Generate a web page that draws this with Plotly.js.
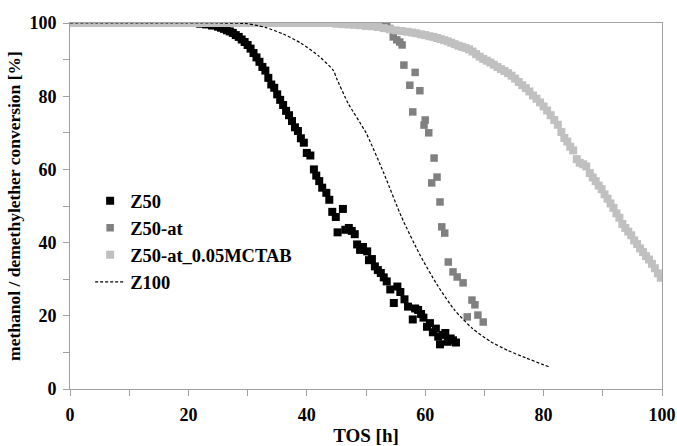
<!DOCTYPE html>
<html>
<head>
<meta charset="utf-8">
<script src="https://cdn.plot.ly/plotly-3.0.1.min.js"></script>
<style>html,body{margin:0;padding:0;background:#fff;}#chart{width:677px;height:446px;}</style>
</head>
<body>
<div id="chart"></div>
<script>
// Z50 (black)
const z50_x = [0,1,2,3,4,5,6,7,8,9,10,11,12,13,14,15,16,17,18,19,20,21,
  22,23,24,25,25.5,26,26.5,27,27.5,28,28.5,29,29.5,30,30.5,31,31.5,32,32.5,33,33.5,34,34.5,35,35.5,36,36.5,37,37.5,38,38.5,39,39.5,40,
  40.6,41.2,41.6,42.1,42.6,43.3,43.8,44.3,44.9,45.2,46.1,46.5,47.1,47.6,48.1,48.5,49.0,49.5,50.2,50.5,51.0,51.5,52.0,52.5,53.0,53.5,
  54.1,54.7,55.3,55.8,56.5,57.1,57.9,58.3,58.8,59.3,59.7,60.3,60.8,61.3,61.8,62.2,62.5,63.0,63.4,63.8,64.3,64.7,65.2];
const z50_y = [100,100,100,100,100,100,100,100,100,100,100,100,100,100,100,100,100,100,100,100,100,100,
  99.8,99.6,99.3,99.0,98.7,98.4,98.0,97.7,97.3,96.7,96.2,95.5,94.8,94.0,93.0,91.8,90.6,89.4,88.0,87.0,85.0,83.2,82.3,80.5,79.0,77.6,76.0,74.8,73.2,71.5,70.5,68.5,67.3,64.5,
  63.8,60.0,58.3,56.8,55.0,53.6,51.7,48.4,47.0,42.8,49.2,43.5,44.0,43.2,42.3,39.5,38.0,38.8,37.6,35.2,35.5,33.5,32.5,31.7,30.5,29.4,
  27.2,23.5,28.0,26.5,24.5,22.5,19.0,22.0,21.6,20.5,19.5,17.0,18.0,15.5,16.5,14.3,12.2,14.8,15.3,12.9,13.8,13.3,12.7];

// Z50-at (dark gray)
const z50at_x = [0,2,4,6,8,10,12,14,16,18,20,22,24,26,28,30,32,34,36,38,40,42,44,46,48,50,52,53,
  53.5,54,54.6,55.2,55.7,56.1,56.4,57.4,57.9,58.3,59.1,59.8,60.0,60.6,61.1,61.5,62.0,62.5,62.8,63.3,63.9,64.7,65.4,66.4,67.1,67.9,68.4,68.9,69.8];
const z50at_y = [100,100,100,100,100,100,100,100,100,100,100,100,100,100,100,100,100,100,100,100,100,100,100,100,100,100,100,100,
  99.5,98.5,96.2,95.4,94.8,94.0,88.5,83.0,75.7,86.5,81.5,72.1,73.5,70.0,56.3,63.1,57.9,51.1,44.3,42.6,34.7,32.0,30.6,29.0,19.7,24.3,23.0,20.2,18.3];

// Z50-at_0.05MCTAB (light gray)
const mctab_x = [0,1,2,3,4,5,6,7,8,9,10,11,12,13,14,15,16,17,18,19,20,21,22,23,24,25,26,27,28,29,30,31,32,33,34,35,36,37,38,39,40,41,42,43,44,
  45,46,47,48,49,50,51,52,53,54,55,56,57,57.8,58.5,59.3,60,60.7,61.4,62,62.6,63.2,63.8,64.4,65,65.6,66.2,66.8,67.4,68,68.6,69.2,69.8,70.4,71,71.6,72.2,72.8,73.4,74,
  74.6,75.2,75.8,76.4,77,77.6,78.2,78.8,79.4,80,80.6,81.2,81.8,82.4,83,83.5,84,84.5,85,85.6,86.1,86.7,87.2,87.8,88.3,88.8,89.3,89.8,90.3,90.8,91.3,91.8,92.3,92.8,
  93.3,93.8,94.3,94.8,95.3,95.8,96.3,96.8,97.3,97.8,98.3,98.8,99.3,99.8];
const mctab_y = [100,100,100,100,100,100,100,100,100,100,100,100,100,100,100,100,100,100,100,100,100,100,100,100,100,100,100,100,100,100,100,100,100,100,100,100,100,100,100,100,100,100,100,100,100,
  99.8,99.7,99.6,99.5,99.4,99.2,99.1,98.9,98.6,98.3,98.0,97.8,97.6,97.4,97.2,96.9,96.7,96.4,96.2,95.9,95.6,95.3,95.0,94.6,94.2,93.8,93.5,93.2,92.8,92.2,91.5,90.8,90.2,89.7,89.2,88.6,88.0,87.4,86.9,86.3,
  85.6,84.8,83.9,83.0,82.2,81.3,80.2,79.3,78.3,77.2,76.1,74.8,73.5,72.2,70.2,68.6,67.6,66.2,65.2,62.8,61.8,61.4,60.8,59.0,57.8,56.8,55.6,54.6,53.2,52.0,50.7,49.5,48.0,46.8,
  45.1,44.0,43.0,42.0,40.6,39.6,38.4,37.4,36.3,35.4,34.2,33.0,31.6,30.4];

// Z100 (dashed line)
const z100_x = [0,25,30,33,36,39,42,44.5,45,47,50,53,56,59,62,65,68,71,74,77,81];
const z100_y = [100,100,99.8,98.8,97,94.5,91,87,85,78,70,59,47,37,28.5,21.5,16.5,13,10.5,8.5,6];

const names = ['Z50','Z50-at','Z50-at_0.05MCTAB','Z100'];
const xTicks = [0,20,40,60,80,100];
const yTicks = [0,20,40,60,80,100];

const FONT = 'Liberation Serif, Times New Roman, serif';
const traces = [
  {x:z50_x, y:z50_y, name:names[0], mode:'markers', type:'scatter',
   marker:{symbol:'square', size:8, color:'#000000'}},
  {x:z50at_x, y:z50at_y, name:names[1], mode:'markers', type:'scatter',
   marker:{symbol:'square', size:7.5, color:'#808080'}},
  {x:mctab_x, y:mctab_y, name:names[2], mode:'markers', type:'scatter',
   marker:{symbol:'square', size:8, color:'#c0c0c0'}},
  {x:z100_x, y:z100_y, name:names[3], mode:'lines', type:'scatter', line:{shape:'spline', smoothing:0.6,
   color:'#000000', width:1.2, dash:'3px,2px'}}
];

const axisCommon = {
  showgrid:false, zeroline:false, showline:true, linecolor:'#a0a0a0', linewidth:1, mirror:true,
  ticks:'outside', ticklen:6, tickcolor:'#a0a0a0', tickwidth:1, ticklabelstandoff:3,
  tickfont:{family:FONT, size:18, color:'#000', weight:'bold'},
  minor:{ticks:'outside', ticklen:6, tickcolor:'#a0a0a0', dtick:10, showgrid:false}
};

const layout = {
  width:677, height:446,
  margin:{l:70, r:15, t:23, b:57},
  paper_bgcolor:'#ffffff', plot_bgcolor:'#ffffff',
  showlegend:true,
  legend:{x:0.034, y:0.565, xanchor:'left', yanchor:'top', bgcolor:'rgba(0,0,0,0)',
    font:{family:FONT, size:18.5, color:'#000', weight:'bold'}, itemwidth:30},
  xaxis:Object.assign({}, axisCommon, {range:[0,100], tickvals:xTicks, fixedrange:true,
    title:{text:'TOS [h]', font:{family:FONT, size:19, color:'#000', weight:'bold'}, standoff:6}}),
  yaxis:Object.assign({}, axisCommon, {range:[0,100], tickvals:yTicks, fixedrange:true,
    title:{text:'methanol / demethylether conversion [%]', font:{family:FONT, size:17.5, color:'#000', weight:'bold'}, standoff:4}})
};

Plotly.newPlot('chart', traces, layout, {displayModeBar:false, staticPlot:true});
</script>
</body>
</html>
